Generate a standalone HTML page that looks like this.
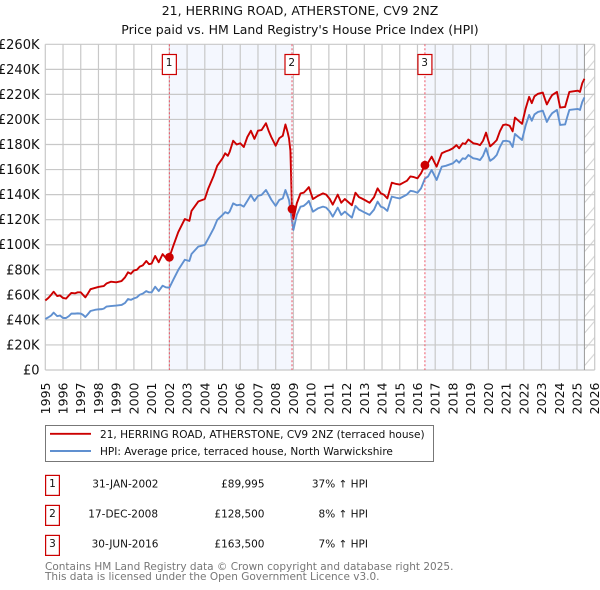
<!DOCTYPE html>
<html lang="en">
<head>
<meta charset="utf-8">
<title>21, HERRING ROAD, ATHERSTONE, CV9 2NZ</title>
<style>
html,body{margin:0;padding:0;background:#fff;width:600px;height:590px;overflow:hidden}
svg{display:block;font-family:"DejaVu Sans","Liberation Sans",sans-serif}
</style>
</head>
<body>
<svg id="chart" xmlns="http://www.w3.org/2000/svg" width="600" height="590" viewBox="0 0 600 590">
  <defs>
    <pattern id="hatch" patternUnits="userSpaceOnUse" x="584.5" y="44" width="10.2" height="16.3">
      <line x1="0" y1="12" x2="10.2" y2="0" stroke="#cfcfcf" stroke-width="1"/>
      <line x1="0" y1="28.3" x2="10.2" y2="16.3" stroke="#cfcfcf" stroke-width="1"/>
    </pattern>
  </defs>
  <rect x="0" y="0" width="600" height="590" fill="#fff"/>
  <text x="300" y="15" text-anchor="middle" font-size="12.5" fill="#111">21, HERRING ROAD, ATHERSTONE, CV9 2NZ</text>
  <text x="300" y="34" text-anchor="middle" font-size="12.5" fill="#111">Price paid vs. HM Land Registry's House Price Index (HPI)</text>

  <g id="shades"></g>
  <g id="grid"></g>
  <g id="yaxis"></g>
  <g id="xaxis"></g>
  <g id="series"></g>
  <g id="sales"></g>

  <g>
    <rect x="45.5" y="425.5" width="388" height="36" fill="#fff" stroke="#777" stroke-width="1"/>
    <line x1="50" y1="433.8" x2="91" y2="433.8" stroke="#cc0000" stroke-width="1.9"/>
    <text x="100" y="438" font-size="10.55" fill="#111">21, HERRING ROAD, ATHERSTONE, CV9 2NZ (terraced house)</text>
    <line x1="50" y1="451" x2="91" y2="451" stroke="#6090d0" stroke-width="1.9"/>
    <text x="100" y="455" font-size="10.55" fill="#111">HPI: Average price, terraced house, North Warwickshire</text>
  </g>

  <g font-size="10.5" fill="#111">
    <g>
      <rect x="45.6" y="475.4" width="13.8" height="20" fill="#fff" stroke="#cc0000" stroke-width="1.2"/>
      <text x="52.5" y="487" text-anchor="middle">1</text>
      <text x="92.3" y="487.5">31-JAN-2002</text>
      <text x="264.5" y="487.5" text-anchor="end">£89,995</text>
      <text x="368" y="487.5" text-anchor="end">37% ↑ HPI</text>
    </g>
    <g>
      <rect x="45.6" y="505.4" width="13.8" height="20" fill="#fff" stroke="#cc0000" stroke-width="1.2"/>
      <text x="52.5" y="517" text-anchor="middle">2</text>
      <text x="88.3" y="517.5">17-DEC-2008</text>
      <text x="264.5" y="517.5" text-anchor="end">£128,500</text>
      <text x="368" y="517.5" text-anchor="end">8% ↑ HPI</text>
    </g>
    <g>
      <rect x="45.6" y="535.4" width="13.8" height="20" fill="#fff" stroke="#cc0000" stroke-width="1.2"/>
      <text x="52.5" y="547" text-anchor="middle">3</text>
      <text x="91.6" y="547.5">30-JUN-2016</text>
      <text x="264.5" y="547.5" text-anchor="end">£163,500</text>
      <text x="368" y="547.5" text-anchor="end">7% ↑ HPI</text>
    </g>
  </g>

  <text x="45" y="570" font-size="10.5" fill="#777">Contains HM Land Registry data © Crown copyright and database right 2025.</text>
  <text x="45" y="580" font-size="10.5" fill="#777">This data is licensed under the Open Government Licence v3.0.</text>
</svg>
<script>
var yTicks = [0,20,40,60,80,100,120,140,160,180,200,220,240,260];
var yLabels = ["£0","£20K","£40K","£60K","£80K","£100K","£120K","£140K","£160K","£180K","£200K","£220K","£240K","£260K"];
var xYears = [1995,1996,1997,1998,1999,2000,2001,2002,2003,2004,2005,2006,2007,2008,2009,2010,2011,2012,2013,2014,2015,2016,2017,2018,2019,2020,2021,2022,2023,2024,2025,2026];

var saleLabels = ["1","2","3"];
var saleDates = [2002.0,2008.92,2016.42];
var salePrices = [90,128.5,163.5];
var lastDataDate = 2025.42;

var dates = [1995,1995.17,1995.33,1995.47,1995.67,1995.83,1996,1996.17,1996.33,1996.47,1996.67,1996.83,1997,1997.13,1997.26,1997.4,1997.55,1997.8,1998,1998.2,1998.3,1998.45,1998.7,1999,1999.3,1999.5,1999.67,1999.83,2000,2000.17,2000.33,2000.5,2000.7,2000.85,2001,2001.2,2001.4,2001.62,2001.8,2002,
2002.22,2002.5,2002.87,2003.13,2003.25,2003.63,2004,2004.2,2004.5,2004.7,2005,2005.15,2005.3,2005.4,2005.6,2005.8,2006,2006.2,2006.4,2006.6,2006.8,2007,2007.2,2007.45,2007.6,2007.75,2008,2008.2,2008.4,2008.55,2008.67,2008.75,2008.83,2008.92,
2009,2009.19,2009.4,2009.58,2009.75,2009.87,2010.1,2010.38,2010.67,2010.85,2011.05,2011.22,2011.5,2011.7,2011.9,2012.1,2012.3,2012.5,2012.7,2012.85,2013.05,2013.3,2013.55,2013.75,2013.93,2014.1,2014.3,2014.45,2014.55,2014.8,2015,2015.2,2015.4,2015.6,2015.8,2016,2016.2,2016.42,
2016.6,2016.8,2017.08,2017.37,2017.6,2017.8,2018,2018.2,2018.35,2018.55,2018.7,2018.87,2019.15,2019.35,2019.53,2019.7,2019.87,2020,2020.1,2020.3,2020.47,2020.65,2020.83,2021,2021.2,2021.37,2021.5,2021.7,2021.9,2022.1,2022.3,2022.45,2022.6,2022.8,2023.07,2023.2,2023.3,2023.45,2023.6,2023.87,2024.05,2024.33,2024.45,2024.57,2024.8,2025.05,2025.17,2025.3,2025.42];

var hpiValues = [40.7,42,43.5,45.8,43,43.5,41.5,41.5,43,45,45,45.2,45,44,42.3,44.5,47.1,48,48.4,48.6,49,50.6,51,51.4,51.9,53.5,56.7,56,57.2,58,60.1,61,63,62,62,66.5,63,67.3,66,65.7,
72,79.8,88,87,92.6,98.5,99.8,105,113,119.8,123.8,126,125,126.4,133,131.5,132,130.4,135,139.7,135,139,139.7,143.7,140,136,131,135.7,137,143.7,139,135.7,128,119,
111.8,123.8,130.4,131,133,135,126.4,129,130.4,129.6,126.5,122.4,129.6,123.8,126.4,124,121.6,131,128,127,125.5,123.8,128,134.4,130.4,129.5,127,134,138.4,137.5,137,138.5,140,143,142.5,141.5,145,152.8,
154.5,159.7,151.7,162.3,163,164,165,167.6,165.5,169,168.5,171.6,169,168.5,167.6,171,177,171,167,169,171.6,178,182.8,183,182.3,178,188.4,186,183.6,195,203.6,199,204,206,207,202,198,202,205,207.6,195.6,196,202,207.6,208,208.4,207.6,214,217.6];

var priceValues = [55.5,57.5,60,62.5,59,59.5,57.5,57,59.5,61.5,61.2,62,62,60,58,61,64.5,65.5,66.3,66.8,67,69,70.5,70,71,74,78,76.8,79.5,80,82.5,83.5,87,84.5,85,91,86,92.5,89.5,90,
99,110,120.5,119,127,134.5,136.5,145,155,163,169,173,171,174,183,180,181,178,186,191,184.5,191,191.5,197,191,186,179,185,187,196,190,185,175,128.5,
120.5,133,141,141.5,144,146,136.5,139,141,140,136.5,132,140,133.5,136.5,134,131.5,141.5,138,137,135.5,133.5,138,145,141,140,137,144.5,149.5,148.5,148,149.5,151,154.5,154,153,157,163.5,
165.5,170.3,162.3,173,174.5,175.5,177,179.5,177,181,180.5,184,181,180.5,179.5,183,189.5,183,178.5,181,183.5,190.5,195.5,196,195,190.5,201.5,199,196.5,208.5,218,213,218.5,220.5,221.5,216,212,216,219.5,222,209.5,210,216,222,222.5,223,222,229,232.5];

var SVGNS = "http://www.w3.org/2000/svg";
var plotLeft = 45.3, plotRight = 594.7, plotTop = 44.3, plotBottom = 370;
function xScale(d){ return plotLeft + (d - 1995) * (plotRight - plotLeft) / 31; }
function yScale(v){ return plotBottom - v * (plotBottom - plotTop) / 260; }
function make(tag, attrs, parent){
  var el = document.createElementNS(SVGNS, tag);
  for (var k in attrs) el.setAttribute(k, attrs[k]);
  parent.appendChild(el);
  return el;
}
function linePath(xs, ys){
  var s = "";
  for (var i = 0; i < xs.length; i++) s += (i ? "L" : "M") + xScale(xs[i]).toFixed(2) + " " + yScale(ys[i]).toFixed(2);
  return s;
}

var shades = document.getElementById("shades");
var shadeA = make("rect", {x:xScale(saleDates[0]), y:plotTop, width:xScale(saleDates[1])-xScale(saleDates[0]), height:plotBottom-plotTop, fill:"#f4f7fe"}, shades);


var shadeB = make("rect", {x:xScale(saleDates[2]), y:plotTop, width:xScale(lastDataDate)-xScale(saleDates[2]), height:plotBottom-plotTop, fill:"#f4f7fe"}, shades);


var hatchRect = make("rect", {x:xScale(lastDataDate), y:plotTop, width:plotRight-xScale(lastDataDate), height:plotBottom-plotTop, fill:"url(#hatch)"}, shades);



var grid = document.getElementById("grid");
var yaxis = document.getElementById("yaxis");
yTicks.forEach(function(t, i){
  var y = yScale(t);
  var gl = make("line", {x1:plotLeft, x2:plotRight, y1:y, y2:y, stroke:"#c8c8c8", "stroke-width":1.2}, grid);
  
  
  var tx = make("text", {x:39.5, y:y+4.5, "text-anchor":"end", "font-size":13, fill:"#111"}, yaxis);
  
  
  tx.textContent = yLabels[i];
});
var xaxis = document.getElementById("xaxis");
xYears.forEach(function(yr){
  var x = xScale(yr);
  var gl = make("line", {x1:x, x2:x, y1:plotTop, y2:plotBottom, stroke:"#c8c8c8", "stroke-width":1.2}, grid);
  
  
  var tx = make("text", {transform:"translate("+(x+4.5)+",382.5) rotate(-90)", "text-anchor":"end", "font-size":12.5, fill:"#111"}, xaxis);
  
  
  tx.textContent = yr;
});
var endLine = make("line", {x1:xScale(lastDataDate), x2:xScale(lastDataDate), y1:plotTop, y2:plotBottom, stroke:"#999", "stroke-width":1}, grid);



var sales = document.getElementById("sales");
saleDates.forEach(function(d){
  var v = make("line", {x1:xScale(d), x2:xScale(d), y1:plotTop, y2:plotBottom, stroke:"#ee5566", "stroke-width":1, "stroke-dasharray":"2,2"}, sales);
  
  
});

var series = document.getElementById("series");
var hpiLine = make("path", {d:linePath(dates, hpiValues), fill:"none", stroke:"#6090d0", "stroke-width":1.9, "stroke-linejoin":"round"}, series);


var priceLine = make("path", {d:linePath(dates, priceValues), fill:"none", stroke:"#cc0000", "stroke-width":1.9, "stroke-linejoin":"round"}, series);



saleDates.forEach(function(d, i){
  var c = make("circle", {cx:xScale(d), cy:yScale(salePrices[i]), r:4.4, fill:"#cc0000"}, sales);
  
  
  var b = make("rect", {x:xScale(d)-7, y:54.5, width:14, height:20, fill:"#fff", stroke:"#cc0000", "stroke-width":1.2}, sales);
  
  
  var t = make("text", {x:xScale(d)-0.3, y:66, "text-anchor":"middle", "font-size":10.5, fill:"#111"}, sales);
  
  
  t.textContent = saleLabels[i];
});
</script>
</body>
</html>
